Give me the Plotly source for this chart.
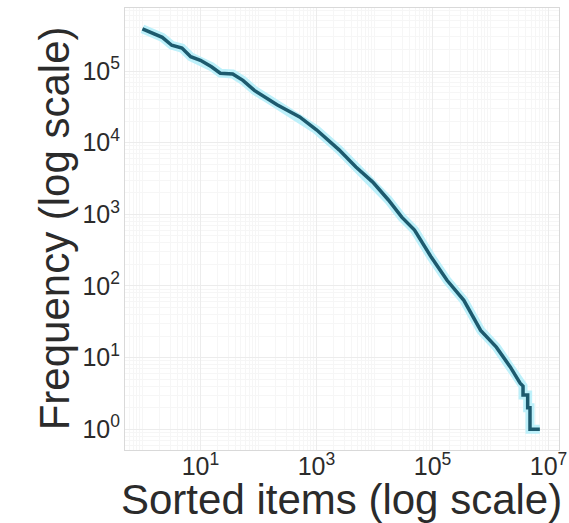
import plotly.graph_objects as go

# Rank (sorted item index) and frequency
rank = [1, 2.2, 3.2, 4.8, 6.8, 10, 15.5, 22, 36, 54, 85, 141, 209, 513, 1000,
        2455, 4786, 9333, 17378, 29512, 48978, 95500, 177828, 346737, 676083,
        1258925, 2187762, 3235937, 3630781, 3630781, 4365158, 4365158,
        4786301, 4786301, 7079458]
freq = [389045, 295121, 229087, 208930, 158489, 141254, 114815, 93325, 91201,
        74131, 53703, 41687, 33884, 22909, 15136, 7943, 4571, 2818, 1585, 912,
        603, 251, 120, 63, 24, 14, 7.4, 4.4, 4, 3, 3, 2, 2, 1, 1]

x_tick_vals = [1e1, 1e3, 1e5, 1e7]
x_tick_text = ["10<sup>1</sup>", "10<sup>3</sup>", "10<sup>5</sup>", "10<sup>7</sup>"]
y_tick_vals = [1e0, 1e1, 1e2, 1e3, 1e4, 1e5]
y_tick_text = ["10<sup>0</sup>", "10<sup>1</sup>", "10<sup>2</sup>",
               "10<sup>3</sup>", "10<sup>4</sup>", "10<sup>5</sup>"]

x_title = "Sorted items (log scale)"
y_title = "Frequency (log scale)"

FONT = "Liberation Sans, Arial, sans-serif"
TXT = "#2b2b2b"

fig = go.Figure()
fig.add_trace(go.Scatter(x=rank, y=freq, mode="lines",
                         line=dict(color="#bdf0fa", width=9),
                         hoverinfo="skip", showlegend=False))
fig.add_trace(go.Scatter(x=rank, y=freq, mode="lines",
                         line=dict(color="#1d5a6e", width=3.5),
                         showlegend=False))

axis_common = dict(
    type="log",
    showgrid=True, gridcolor="#ececec", gridwidth=1,
    zeroline=False,
    showline=True, linecolor="#d9d9d9", linewidth=1, mirror=True,
    ticks="",
    ticklabeloverflow="allow",
    tickfont=dict(family=FONT, size=25, color=TXT),
    minor=dict(dtick="D1", showgrid=True, gridcolor="#f6f6f6", gridwidth=1),
)

fig.update_xaxes(range=[-0.30, 7.18], tickvals=x_tick_vals, ticktext=x_tick_text,
                 ticklabelstandoff=-6, **axis_common)
fig.update_yaxes(range=[-0.29, 5.88], tickvals=y_tick_vals, ticktext=y_tick_text,
                 ticklabelstandoff=-1, **axis_common)

fig.add_annotation(text=x_title, xref="paper", yref="paper",
                   x=(345 - 125) / 442, y=(450 - 499) / 442,
                   xanchor="center", yanchor="middle", showarrow=False,
                   font=dict(family=FONT, size=42, color=TXT))
fig.add_annotation(text=y_title, xref="paper", yref="paper",
                   x=(53 - 125) / 442, y=(450 - 228) / 442,
                   xanchor="center", yanchor="middle", showarrow=False,
                   textangle=-90,
                   font=dict(family=FONT, size=42, color=TXT))

fig.update_layout(
    width=569, height=523,
    margin=dict(l=125, r=2, t=8, b=73),
    paper_bgcolor="white", plot_bgcolor="white",
    showlegend=False,
)

fig.write_html("out.html")
